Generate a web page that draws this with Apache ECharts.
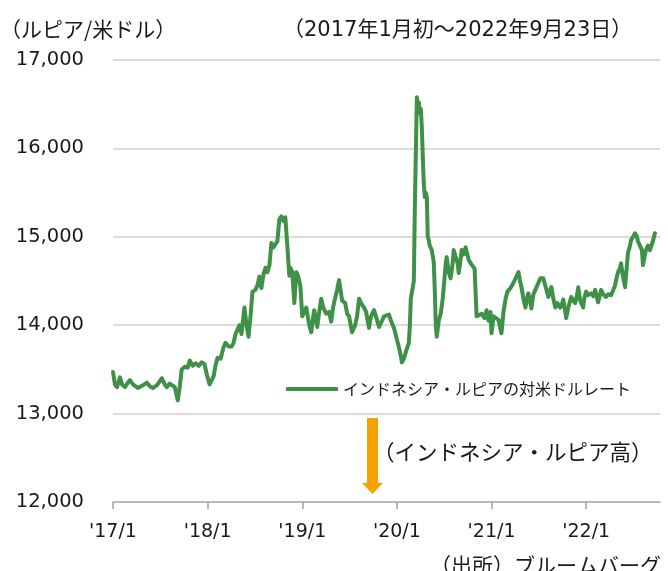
<!DOCTYPE html>
<html>
<head>
<meta charset="utf-8">
<script src="https://cdn.jsdelivr.net/npm/echarts@6/dist/echarts.min.js"></script>
<style>
html,body{margin:0;padding:0;background:#fff;}
#chart{width:668px;height:571px;}
</style>
</head>
<body>
<div id="chart"></div>
<script>
// decimal years (time axis position) and IDR per USD values
const timeYears = [
2017.000,2017.021,2017.042,2017.074,2017.095,2017.126,2017.158,2017.179,2017.211,2017.232,
2017.263,2017.284,2017.316,2017.358,2017.389,2017.421,2017.463,2017.516,2017.547,2017.568,
2017.600,2017.621,2017.653,2017.674,2017.684,2017.705,2017.726,2017.758,2017.789,2017.811,
2017.842,2017.874,2017.905,2017.937,2017.968,2017.989,2018.021,2018.042,2018.063,2018.084,
2018.105,2018.137,2018.168,2018.189,2018.221,2018.253,2018.274,2018.295,2018.316,2018.337,
2018.358,2018.389,2018.411,2018.432,2018.453,2018.474,2018.505,2018.526,2018.547,2018.568,
2018.589,2018.611,2018.632,2018.653,2018.674,2018.695,2018.716,2018.737,2018.758,2018.779,
2018.800,2018.821,2018.842,2018.863,2018.874,2018.895,2018.916,2018.937,2018.958,2018.979,
2019.000,2019.021,2019.042,2019.074,2019.095,2019.116,2019.126,2019.147,2019.158,2019.179,
2019.200,2019.221,2019.253,2019.284,2019.305,2019.326,2019.337,2019.368,2019.389,2019.411,
2019.421,2019.453,2019.474,2019.495,2019.526,2019.558,2019.579,2019.600,2019.621,2019.653,
2019.674,2019.705,2019.726,2019.758,2019.779,2019.811,2019.842,2019.863,2019.884,2019.916,
2019.937,2019.968,2019.989,2020.021,2020.042,2020.053,2020.074,2020.095,2020.105,2020.126,
2020.137,2020.147,2020.168,2020.179,2020.189,2020.200,2020.211,2020.221,2020.232,2020.242,
2020.253,2020.263,2020.274,2020.284,2020.295,2020.305,2020.316,2020.326,2020.337,2020.347,
2020.368,2020.389,2020.400,2020.411,2020.421,2020.442,2020.463,2020.484,2020.495,2020.516,
2020.526,2020.547,2020.568,2020.589,2020.600,2020.621,2020.642,2020.653,2020.674,2020.684,
2020.705,2020.726,2020.737,2020.758,2020.779,2020.800,2020.821,2020.832,2020.842,2020.863,
2020.895,2020.926,2020.947,2020.968,2020.989,2021.000,2021.021,2021.042,2021.074,2021.095,
2021.105,2021.126,2021.147,2021.168,2021.200,2021.232,2021.253,2021.284,2021.305,2021.316,
2021.337,2021.358,2021.379,2021.389,2021.411,2021.421,2021.442,2021.463,2021.495,2021.516,
2021.547,2021.568,2021.600,2021.621,2021.632,2021.653,2021.674,2021.695,2021.726,2021.747,
2021.758,2021.779,2021.789,2021.811,2021.842,2021.863,2021.884,2021.905,2021.916,2021.937,
2021.968,2021.979,2022.000,2022.021,2022.053,2022.074,2022.095,2022.116,2022.126,2022.147,
2022.158,2022.179,2022.211,2022.232,2022.263,2022.284,2022.305,2022.316,2022.337,2022.358,
2022.368,2022.389,2022.411,2022.432,2022.442,2022.463,2022.474,2022.495,2022.516,2022.537,
2022.547,2022.568,2022.589,2022.600,2022.621,2022.632,2022.653,2022.674,2022.684,2022.705,
2022.726
];
const rupiahPerUsd = [
13470,13330,13300,13410,13330,13300,13350,13380,13330,13320,
13290,13270,13320,13350,13310,13290,13320,13400,13330,13300,
13340,13360,13300,13280,13150,13300,13500,13530,13520,13600,
13540,13570,13540,13580,13560,13450,13330,13310,13420,13550,
13630,13620,13750,13800,13760,13760,13800,13900,13950,14000,
13900,14200,14000,13870,14100,14380,14400,14450,14550,14420,
14570,14650,14600,14680,14930,14880,14900,14950,15200,15230,
15180,15220,14900,14560,14650,14600,14250,14600,14550,14450,
14100,14150,14200,14000,13920,14100,14170,14050,13980,14150,
14300,14200,14130,14150,14040,14200,14260,14400,14510,14350,
14280,14250,14130,14100,13920,14000,14100,14300,14250,14200,
14150,13970,14100,14170,14100,13980,14050,14100,14100,14120,
14050,13970,13950,13750,13650,13580,13620,13700,13720,13800,
14000,14300,14300,14500,15300,15950,16580,16480,16520,16400,
16450,16240,15900,15600,15450,15500,15450,15000,14960,14900,
14850,14720,14400,14000,13870,14050,14130,14300,14430,14700,
14770,14600,14530,14700,14850,14850,14700,14590,14750,14850,
14800,14880,14890,14740,14700,14700,14640,14620,14100,14080,
14130,14080,14170,14050,14150,13910,14100,14120,14060,13950,
13910,14150,14290,14380,14420,14480,14500,14600,14480,14430,
14300,14200,14320,14360,14250,14190,14350,14400,14480,14530,
14530,14450,14320,14400,14430,14300,14200,14250,14200,14250,
14290,14150,14080,14200,14320,14280,14250,14350,14430,14280,
14200,14300,14380,14340,14360,14330,14400,14300,14260,14350,
14400,14350,14320,14350,14340,14360,14450,14510,14600,14650,
14700,14550,14430,14700,14820,14900,14960,15000,15040,15000,
14950,14960,14850,14680,14800,14850,14900,14850,14880,14950,
15040
];
const yearTicks = [2017, 2018, 2019, 2020, 2021, 2022];
const seriesName = 'インドネシア・ルピアの対米ドルレート';
const unitLabel = '（ルピア/米ドル）';
const periodLabel = '（2017年1月初～2022年9月23日）';
const noteLabel = '（インドネシア・ルピア高）';
const sourceLabel = '（出所）ブルームバーグ';

const lineData = timeYears.map((t, i) => [t, rupiahPerUsd[i]]);

const numFont = 'DejaVu Sans';
const jpFont = '"Noto Sans CJK JP", sans-serif';
const mixFont = '"DejaVu Sans", "Noto Sans CJK JP", sans-serif';
const lineColor = '#3f9147';
const arrowColor = '#f4a200';

const chart = echarts.init(document.getElementById('chart'), null, {renderer: 'canvas'});
chart.setOption({
  animation: false,
  backgroundColor: '#ffffff',
  grid: {left: 113, right: 8, top: 60, bottom: 69, containLabel: false},
  legend: {
    data: [{name: seriesName, icon: 'roundRect'}],
    left: 281, top: 376,
    itemWidth: 52, itemHeight: 4,
    textStyle: {fontFamily: jpFont, fontSize: 16, color: '#1a1a1a'},
    itemStyle: {color: lineColor}
  },
  xAxis: {
    type: 'value',
    min: 2017, max: 2022.78,
    splitLine: {show: false},
    axisLine: {show: true, lineStyle: {color: '#b0b0b0', width: 1.5}},
    axisTick: {show: true, length: 7, inside: false, lineStyle: {color: '#a0a0a0', width: 1.5}, customValues: yearTicks},
    axisLabel: {
      customValues: yearTicks,
      margin: 21,
      fontFamily: numFont, fontSize: 19, color: '#1a1a1a',
      formatter: v => "'" + String(Math.round(v)).slice(2) + '/1'
    }
  },
  yAxis: {
    type: 'value',
    min: 12000, max: 17000, interval: 1000,
    axisLine: {show: false},
    axisTick: {show: false},
    splitLine: {show: true, lineStyle: {color: '#cfcfcf', width: 1.5}},
    axisLabel: {
      margin: 29,
      fontFamily: numFont, fontSize: 19.5, color: '#1a1a1a',
      formatter: v => v.toLocaleString('en-US')
    }
  },
  series: [{
    name: seriesName,
    type: 'line',
    data: lineData,
    showSymbol: false,
    symbol: 'none',
    lineStyle: {color: lineColor, width: 4, join: 'round', cap: 'round'},
    itemStyle: {color: lineColor}
  }],
  graphic: [
    {type: 'text', left: 0, top: 19, style: {text: unitLabel, fontFamily: jpFont, fontSize: 21, fill: '#1a1a1a'}},
    {type: 'text', left: 283, top: 20, style: {text: periodLabel, fontFamily: mixFont, fontSize: 21, fill: '#1a1a1a'}},
    {type: 'rect', shape: {x: 367, y: 418, width: 11, height: 66}, style: {fill: arrowColor}},
    {type: 'polygon', shape: {points: [[362, 483], [383, 483], [372.5, 494]]}, style: {fill: arrowColor}},
    {type: 'text', left: 373, top: 441, style: {text: noteLabel, fontFamily: jpFont, fontSize: 21.5, fill: '#1a1a1a'}},
    {type: 'text', left: 430, top: 555, style: {text: sourceLabel, fontFamily: jpFont, fontSize: 21, fill: '#1a1a1a'}}
  ]
});
</script>
</body>
</html>
